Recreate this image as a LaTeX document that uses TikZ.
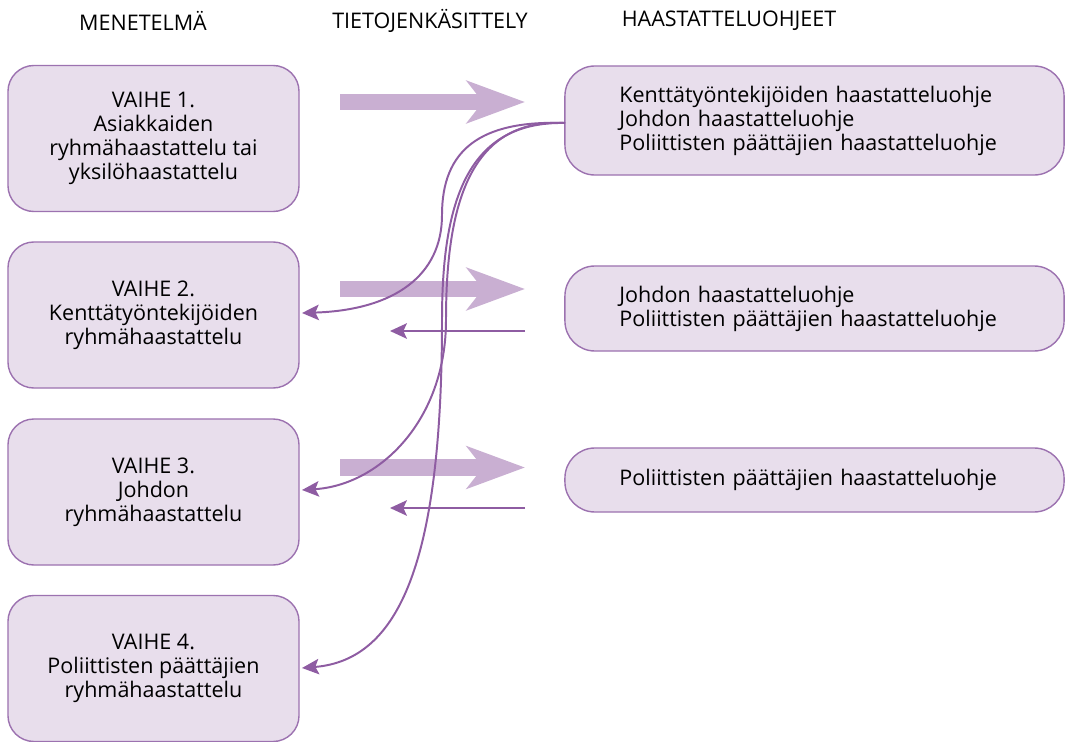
\documentclass[tikz,border=0pt]{standalone}
\usepackage{fontspec}
\setmainfont{Open Sans}
\usepackage{tikz}
\usetikzlibrary{arrows.meta, positioning}
\definecolor{boxFill}{HTML}{E8DEEC}
\definecolor{boxLine}{HTML}{9C72B0}
\definecolor{flowPurple}{HTML}{8E5CA2}
\definecolor{bigArrow}{HTML}{C9AFD2}

\begin{document}
\begin{tikzpicture}[x=0.025cm, y=-0.025cm,
    phase/.style={rectangle, rounded corners=0.65cm, draw=boxLine, fill=boxFill, line width=1pt,
                  minimum width=7.275cm, minimum height=3.65cm, align=center,
                  font=\fontsize{15.3}{17.1}\selectfont},
    guide/.style={rectangle, rounded corners=0.75cm, draw=boxLine, fill=boxFill, line width=1pt,
                  minimum width=12.475cm, text width=9.75cm, align=left,
                  font=\fontsize{15.3}{17.1}\selectfont},
    heading/.style={font=\fontsize{15.3}{17}\selectfont},
    bigarrow/.style={bigArrow, line width=11.4pt,
                     -{Stealth[length=1.45cm, width=1.05cm, inset=0.4cm]}},
    back/.style={flowPurple, line width=1.4pt, -{Stealth[length=12pt, width=11pt, inset=2.5pt]}},
]
\useasboundingbox (0,0) rectangle (1066,742);
% column headings
\node[heading] (hmethod) at (143,21) {MENETELMÄ};
\node[heading] (hdata) at (430,21) {TIETOJENKÄSITTELY};
\node[heading] (hguide) at (729,21) {HAASTATTELUOHJEET};
% phases
\node[phase] (v1) at (153.5,138.5) {VAIHE 1.\\Asiakkaiden\\ryhmähaastattelu tai\\yksilöhaastattelu};
\node[phase] (v2) at (153.5,315) {VAIHE 2.\\Kenttätyöntekijöiden\\ryhmähaastattelu};
\node[phase] (v3) at (153.5,492) {VAIHE 3.\\Johdon\\ryhmähaastattelu};
\node[phase] (v4) at (153.5,668.5) {VAIHE 4.\\Poliittisten päättäjien\\ryhmähaastattelu};
% interview guides
\node[guide, minimum height=2.725cm] (g1) at (814.5,120.5) {Kenttätyöntekijöiden haastatteluohje\\Johdon haastatteluohje\\Poliittisten päättäjien haastatteluohje};
\node[guide, minimum height=2.125cm] (g2) at (814.5,308.5) {Johdon haastatteluohje\\Poliittisten päättäjien haastatteluohje};
\node[guide, minimum height=1.6cm] (g3) at (814.5,480) {Poliittisten päättäjien haastatteluohje};
% arrow ends
\coordinate (src) at (565,123);
\coordinate (a1s) at (340,102);   \coordinate (a1e) at (525,102);
\coordinate (a2s) at (340,289);   \coordinate (a2e) at (525,289);
\coordinate (a3s) at (340,467.5); \coordinate (a3e) at (525,467.5);
\coordinate (b2s) at (525,331);   \coordinate (b2e) at (390,331);
\coordinate (b3s) at (525,508);   \coordinate (b3e) at (390,508);
\coordinate (t2) at (302,313);
\coordinate (t3) at (302,490);
\coordinate (t4) at (302,668);
\draw[bigarrow] (a1s) -- (a1e);
\draw[bigarrow] (a2s) -- (a2e);
\draw[bigarrow] (a3s) -- (a3e);
\draw[back] (b2s) -- (b2e);
\draw[back] (b3s) -- (b3e);
% feedback curves
\draw[back] (src) .. controls (480,120) and (442,150) .. (442,215)
                  .. controls (442,275) and (395,310) .. (t2);
\draw[back] (src) .. controls (472,118) and (446,200) .. (446,320)
                  .. controls (446,420) and (380,485) .. (t3);
\draw[back] (src) .. controls (468,121) and (442,200) .. (442,320)
                  .. controls (442,560) and (400,660) .. (t4);
\end{tikzpicture}
\end{document}
